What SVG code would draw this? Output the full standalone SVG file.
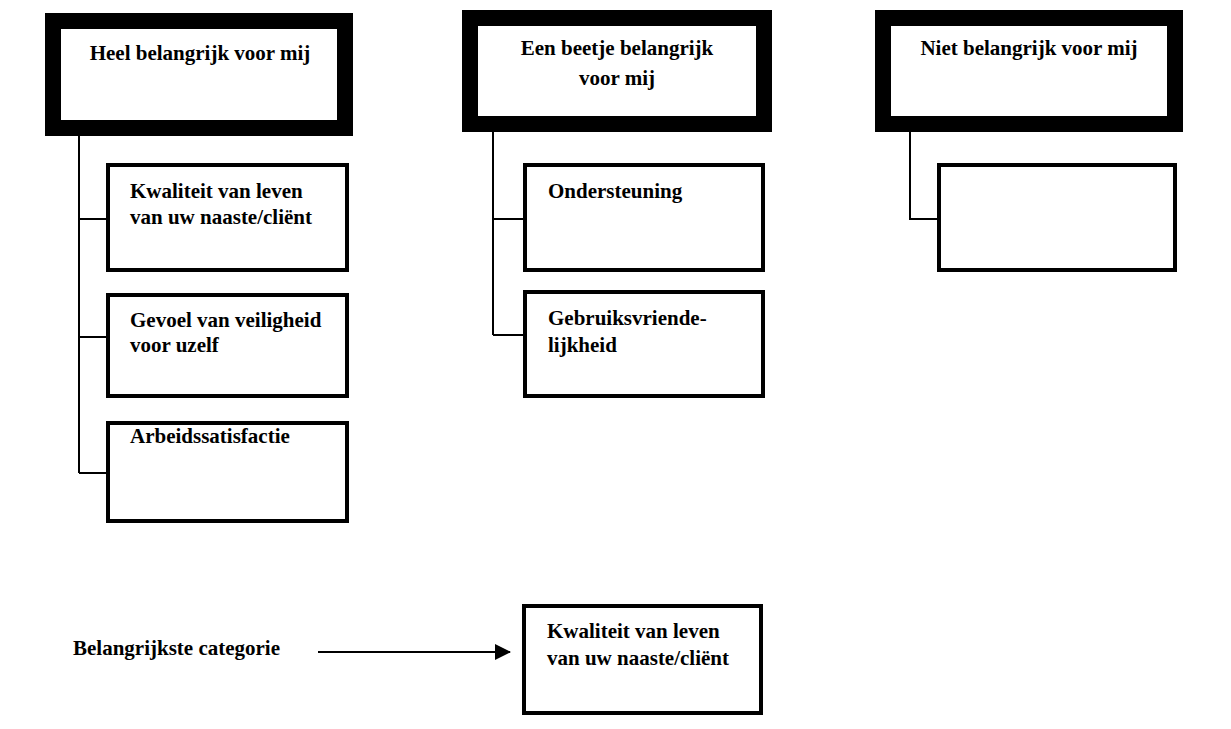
<svg xmlns="http://www.w3.org/2000/svg" width="1231" height="729" viewBox="0 0 1231 729">
<style>
text{font-family:"Liberation Serif","Times New Roman",serif;font-weight:bold;font-size:21px;fill:#000}
.mid{text-anchor:middle}
.head{fill:#fff;stroke:#000;stroke-width:16}
.child{fill:#fff;stroke:#000;stroke-width:4}
.conn{fill:none;stroke:#000;stroke-width:2}
</style>
<defs>
<marker id="arr" markerWidth="16" markerHeight="16" refX="15" refY="8" orient="auto" markerUnits="userSpaceOnUse">
<path d="M0,0 L16,8 L0,16 Z" fill="#000"/>
</marker>
</defs>
<rect width="1231" height="729" fill="#fff"/>
<g id="connectors">
<path class="conn" d="M79,136 V473 M79,219 H106 M79,337 H106 M79,473 H106"/>
<path class="conn" d="M493,132 V335 M493,219 H523 M493,335 H523"/>
<path class="conn" d="M910,132 V219 H937"/>
<line class="conn" x1="318" y1="652" x2="510" y2="652" marker-end="url(#arr)"/>
</g>
<g id="head1">
<rect class="head" x="53" y="21" width="292" height="107"/>
<text class="mid" x="200" y="60">Heel belangrijk voor mij</text>
</g>
<g id="head2">
<rect class="head" x="470" y="18" width="294" height="106"/>
<text class="mid" x="617" y="55">Een beetje belangrijk</text>
<text class="mid" x="617" y="85">voor mij</text>
</g>
<g id="head3">
<rect class="head" x="883" y="18" width="292" height="106"/>
<text class="mid" x="1029" y="55">Niet belangrijk voor mij</text>
</g>
<g id="kwaliteit">
<rect class="child" x="108" y="165" width="239" height="105"/>
<text x="130" y="198">Kwaliteit van leven</text>
<text x="130" y="224">van uw naaste/cliënt</text>
</g>
<g id="gevoel">
<rect class="child" x="108" y="295" width="239" height="101"/>
<text x="130" y="327">Gevoel van veiligheid</text>
<text x="130" y="352">voor uzelf</text>
</g>
<g id="arbeid">
<rect class="child" x="108" y="423" width="239" height="98"/>
<text x="130" y="443">Arbeidssatisfactie</text>
</g>
<g id="ondersteuning">
<rect class="child" x="525" y="165" width="238" height="105"/>
<text x="548" y="198">Ondersteuning</text>
</g>
<g id="gebruik">
<rect class="child" x="525" y="292" width="238" height="104"/>
<text x="548" y="325">Gebruiksvriende-</text>
<text x="548" y="352">lijkheid</text>
</g>
<g id="leeg">
<rect class="child" x="939" y="165" width="236" height="105"/>
</g>
<g id="label">
<text x="73" y="655">Belangrijkste categorie</text>
</g>
<g id="belangrijkste">
<rect class="child" x="524" y="606" width="237" height="107"/>
<text x="547" y="638">Kwaliteit van leven</text>
<text x="547" y="665">van uw naaste/cliënt</text>
</g>
</svg>
